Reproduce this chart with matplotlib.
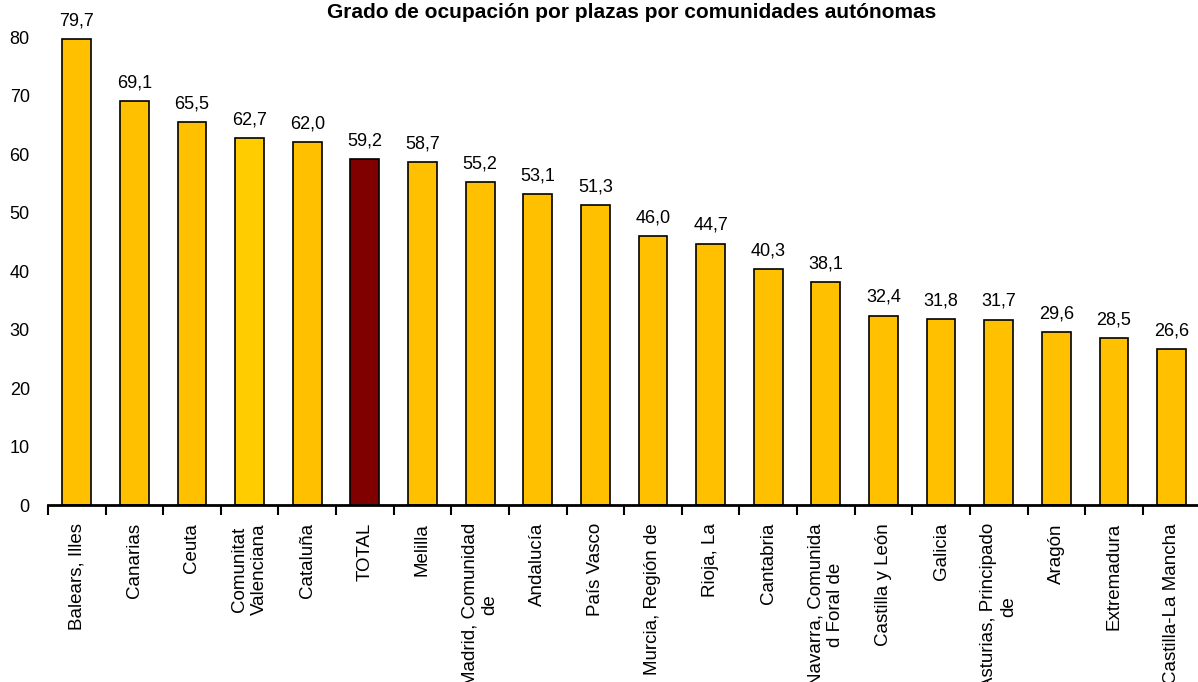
import matplotlib.pyplot as plt
import numpy as np

plt.rcParams['font.family'] = ['Liberation Sans', 'DejaVu Sans']

# data
regiones = ['Balears, Illes', 'Canarias', 'Ceuta', 'Comunitat\nValenciana', 'Cataluña',
            'TOTAL', 'Melilla', 'Madrid, Comunidad\nde', 'Andalucía', 'País Vasco',
            'Murcia, Región de', 'Rioja, La', 'Cantabria', 'Navarra, Comunida\nd Foral de',
            'Castilla y León', 'Galicia', 'Asturias, Principado\nde', 'Aragón',
            'Extremadura', 'Castilla-La Mancha']
ocupacion = [79.7, 69.1, 65.5, 62.7, 62.0, 59.2, 58.7, 55.2, 53.1, 51.3,
             46.0, 44.7, 40.3, 38.1, 32.4, 31.8, 31.7, 29.6, 28.5, 26.6]
colores = ['#FFC000'] * len(regiones)
colores[3] = '#FFCC00'
colores[5] = '#800000'

fig = plt.figure(figsize=(11.98, 6.82), dpi=100)
ax = fig.add_axes([0.04, 0.2595, 0.962, 0.686])

x = np.arange(len(regiones))
ax.bar(x, ocupacion, width=0.5, color=colores, edgecolor='black', linewidth=1.2)

for xi, v in zip(x, ocupacion):
    ax.annotate(('%.1f' % v).replace('.', ','), (xi, v), xytext=(0, 7),
                textcoords='offset points', ha='center', va='bottom', fontsize=13)

ax.set_xlim(-0.5, len(regiones) - 0.5)
ax.set_ylim(0, 80)
ax.set_yticks(range(0, 81, 10))
ax.tick_params(axis='y', length=0, pad=13, labelsize=13)

ax.set_xticks(x)
ax.set_xticklabels(regiones, rotation=90, fontsize=13.5, ha='center', va='top',
                   multialignment='center', linespacing=1.2)
ax.set_xticks(np.arange(-0.5, len(regiones), 1), minor=True)
ax.tick_params(axis='x', which='major', length=0, pad=13)
ax.tick_params(axis='x', which='minor', length=7, width=1.5, direction='out')

for s in ['top', 'right', 'left']:
    ax.spines[s].set_visible(False)
ax.spines['bottom'].set_linewidth(2)

fig.text(0.5275, 0.995, 'Grado de ocupación por plazas por comunidades autónomas',
         ha='center', va='top', fontsize=15, fontweight='bold')

fig.savefig('out.png', dpi=100)
